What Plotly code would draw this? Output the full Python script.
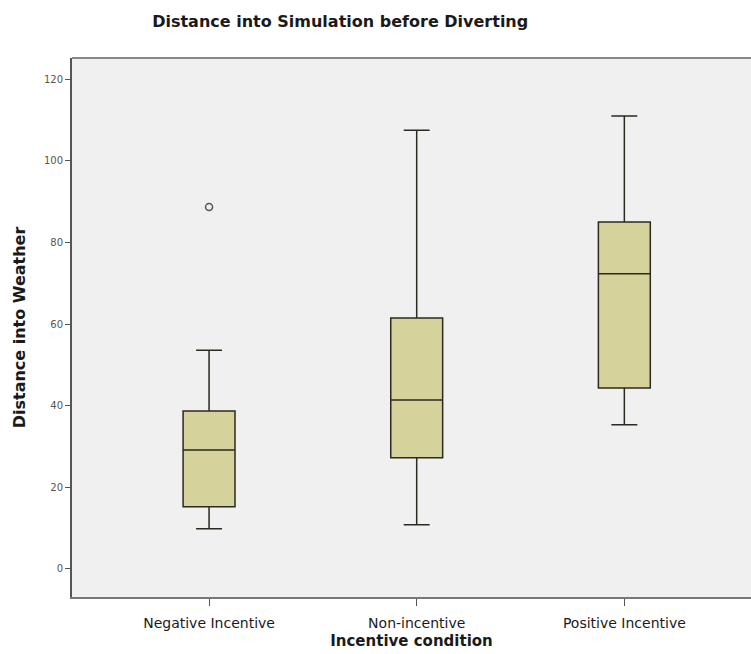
import plotly.graph_objects as go

categories = ["Negative Incentive", "Non-incentive", "Positive Incentive"]
lower_whisker = [9.8, 10.8, 35.3]
q1 = [15.2, 27.2, 44.3]
median = [29.1, 41.4, 72.3]
q3 = [38.7, 61.5, 85.0]
upper_whisker = [53.6, 107.5, 111.0]
outlier_cat = [0]
outlier_val = [88.7]

xpos = list(range(len(categories)))

fig = go.Figure()
fig.add_trace(go.Box(
    x=xpos, q1=q1, median=median, q3=q3,
    lowerfence=lower_whisker, upperfence=upper_whisker,
    width=0.25, whiskerwidth=0.5,
    fillcolor="#d5d29b", line=dict(color="#2a2a20", width=1.5),
    boxpoints=False, showlegend=False, hoverinfo="skip",
))
fig.add_trace(go.Scatter(
    x=outlier_cat, y=outlier_val, mode="markers",
    marker=dict(symbol="circle-open", size=7, color="#555555", line=dict(width=1.5)),
    showlegend=False,
))

font = "DejaVu Sans, sans-serif"
fig.update_layout(
    width=751, height=654,
    margin=dict(l=72, r=0, t=58, b=57),
    paper_bgcolor="white", plot_bgcolor="#f0f0f0",
    font=dict(family=font, color="#222222"),
    title=dict(text="<b>Distance into Simulation before Diverting</b>",
               x=0.453, xanchor="center", y=0.968, yanchor="middle",
               font=dict(size=16, color="#1a1a1a")),
    xaxis=dict(
        range=[-0.66, 2.61], tickmode="array", tickvals=xpos, ticktext=categories,
        showgrid=False, zeroline=False, showline=True, linecolor="#777777", linewidth=2,
        mirror=False, ticks="outside", ticklen=7, tickcolor="#555555",
        ticklabelstandoff=5,
        tickfont=dict(size=14, color="#1a1a1a"),
        title=dict(text="<b>Incentive condition</b>", font=dict(size=15, color="#1a1a1a"), standoff=6),
    ),
    yaxis=dict(
        range=[-6.9, 125.2], tickvals=[0, 20, 40, 60, 80, 100, 120],
        showgrid=False, zeroline=False, showline=True, linecolor="#555555", linewidth=2,
        ticks="outside", ticklen=5, tickcolor="#555555",
        tickfont=dict(size=10, color="#555555"),
        title=dict(text="<b>Distance into Weather</b>", font=dict(size=16, color="#1a1a1a"), standoff=14),
    ),
)
fig.add_shape(type="line", xref="paper", yref="paper", x0=0, x1=1, y0=1, y1=1,
              line=dict(color="#888888", width=2))
fig.write_html("out.html")
